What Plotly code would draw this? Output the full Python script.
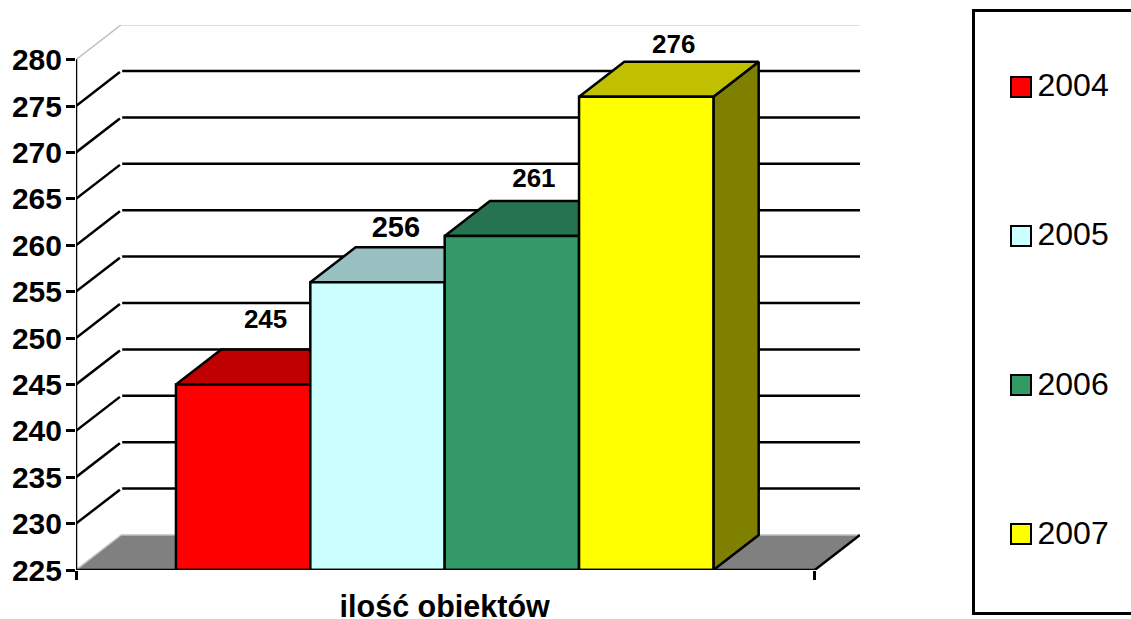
import plotly.graph_objects as go

# --- data ---
years = ["2004", "2005", "2006", "2007"]
values = [245, 256, 261, 276]
front_colors = ["#FF0000", "#CCFFFF", "#339966", "#FFFF00"]
top_colors = ["#C00000", "#99C0C0", "#267350", "#C0C000"]
side_colors = ["#800000", "#668080", "#1A4D33", "#808000"]
y_ticks = list(range(225, 285, 5))
category = "ilość obiektów"

# label placement relative to the bar centre / bar value
label_dx = [0.167, 0.137, 0.164, 0.205]
label_dy = [6.8, 5.7, 6.0, 5.42]
label_sizes = [26, 29, 26, 26]

# --- geometry of the fake 3D box ---
FLOOR = 225
TOP = 280
DX = 0.337          # depth in x units
DY = 3.77           # depth in y units
X0 = -0.744
X1 = 4.754
XR = [X0, X1 + DX]
YR = [FLOOR, TOP + DY - 0.04]
W, H = 1131, 619
XDOM = [76 / W, 860 / W]
YDOM = [49 / H, 594 / H]
LW = 2.5
FONT = "Liberation Sans, Arial, sans-serif"

fig = go.Figure()

# floor
fig.add_trace(go.Scatter(
    x=[X0, X0 + DX, X1 + DX, X1, X0], y=[FLOOR, FLOOR + DY, FLOOR + DY, FLOOR, FLOOR],
    fill="toself", fillcolor="#808080", mode="none", showlegend=False, hoverinfo="skip"))

# light outline of the walls
fig.add_trace(go.Scatter(
    x=[X0, X0 + DX, None, X0 + DX, X1 + DX, None, X0, X0 + DX, X1 + DX],
    y=[TOP, TOP + DY, None, TOP + DY, TOP + DY, None, FLOOR, FLOOR + DY, FLOOR + DY],
    mode="lines", line=dict(color="#C0C0C0", width=1.5), showlegend=False, hoverinfo="skip"))

# gridlines
gx, gy = [], []
for t in y_ticks[1:-1]:
    gx += [X0, X0 + DX * 0.97, None, X0 + DX * 1.02, X1 + DX, None]
    gy += [t, t + DY * 0.97, None, t + DY, t + DY, None]
fig.add_trace(go.Scatter(x=gx, y=gy, mode="lines", line=dict(color="#000000", width=LW),
                         showlegend=False, hoverinfo="skip"))

# floor right edge
fig.add_trace(go.Scatter(x=[X1, X1 + DX], y=[FLOOR, FLOOR + DY], mode="lines",
                         line=dict(color="#000000", width=LW), showlegend=False, hoverinfo="skip"))

# tops and sides of the bars
for i, v in enumerate(values):
    fig.add_trace(go.Scatter(
        x=[i + 1, i + 1 + DX, i + 1 + DX, i + 1, i + 1],
        y=[FLOOR, FLOOR + DY, v + DY, v, FLOOR],
        fill="toself", fillcolor=side_colors[i], mode="lines",
        line=dict(color="#000000", width=LW), showlegend=False, hoverinfo="skip"))
    fig.add_trace(go.Scatter(
        x=[i, i + DX, i + 1 + DX, i + 1, i],
        y=[v, v + DY, v + DY, v, v],
        fill="toself", fillcolor=top_colors[i], mode="lines",
        line=dict(color="#000000", width=LW), showlegend=False, hoverinfo="skip"))

# front faces, on the overlay axes
for i, v in enumerate(values):
    fig.add_trace(go.Bar(
        x=[i + 0.5], y=[v - FLOOR], base=FLOOR, width=1, xaxis="x2", yaxis="y2",
        marker=dict(color=front_colors[i], line=dict(color="#000000", width=LW)),
        showlegend=False, hoverinfo="skip"))

# axis lines
fig.add_trace(go.Scatter(x=[X0, X0, X1], y=[TOP, FLOOR, FLOOR], xaxis="x2", yaxis="y2", mode="lines",
                         line=dict(color="#000000", width=LW), showlegend=False, hoverinfo="skip",
                         cliponaxis=False))

# data labels
fig.add_trace(go.Scatter(
    x=[i + 0.5 + d for i, d in enumerate(label_dx)],
    y=[v + d for v, d in zip(values, label_dy)],
    text=[str(v) for v in values], mode="text", textposition="middle center",
    textfont=dict(family=FONT, size=label_sizes, color="#000000", weight="bold"),
    xaxis="x2", yaxis="y2", showlegend=False, hoverinfo="skip", cliponaxis=False))

# legend, drawn as a small panel of its own
rows = list(range(len(years)))
fig.add_trace(go.Scatter(
    x=[46.5] * len(years), y=rows, mode="markers",
    marker=dict(symbol="square", size=20, color=front_colors, line=dict(color="#000000", width=2)),
    xaxis="x3", yaxis="y3", showlegend=False, hoverinfo="skip"))
fig.add_trace(go.Scatter(
    x=[63] * len(years), y=[r + 0.01 for r in rows], text=years, mode="text", textposition="middle right",
    textfont=dict(family=FONT, size=32, color="#000000"),
    xaxis="x3", yaxis="y3", showlegend=False, hoverinfo="skip", cliponaxis=False))

axis_common = dict(range=XR, domain=XDOM, zeroline=False, showgrid=False)
fig.update_layout(
    width=W, height=H,
    margin=dict(l=0, r=0, t=0, b=0, pad=0, autoexpand=False),
    paper_bgcolor="#FFFFFF", plot_bgcolor="#FFFFFF",
    barmode="overlay", font=dict(family=FONT, color="#000000"), showlegend=False,
    xaxis=dict(**axis_common, tickmode="array", tickvals=[X0, X1], ticktext=["", ""],
               ticks="outside", ticklen=9, tickwidth=LW, tickcolor="#000000"),
    yaxis=dict(range=YR, domain=YDOM, zeroline=False, showgrid=False, tickmode="array", tickvals=y_ticks,
               ticks="outside", ticklen=9, tickwidth=LW, tickcolor="#000000", ticklabelstandoff=-2,
               tickfont=dict(family=FONT, size=30, color="#000000", weight="bold")),
    xaxis2=dict(**axis_common, overlaying="x", side="bottom", tickmode="array", tickvals=[2],
                ticktext=[category], ticks="", ticklabelstandoff=15,
                tickfont=dict(family=FONT, size=30.5, color="#000000", weight="bold")),
    yaxis2=dict(range=YR, domain=YDOM, overlaying="y", zeroline=False, showgrid=False,
                showticklabels=False, ticks=""),
    xaxis3=dict(anchor="y3", domain=[974.5 / W, 1], range=[0, 156.5], showgrid=False, zeroline=False,
                showticklabels=False, ticks="", showline=True, mirror=True, linecolor="#000000", linewidth=LW),
    yaxis3=dict(anchor="x3", domain=[7 / H, 607 / H], range=[3.523, -0.503], showgrid=False, zeroline=False,
                showticklabels=False, ticks="", showline=True, linecolor="#000000", linewidth=LW),
)
fig.write_html("out.html", config={"displayModeBar": False},
               post_script="document.body.style.margin='0';")
